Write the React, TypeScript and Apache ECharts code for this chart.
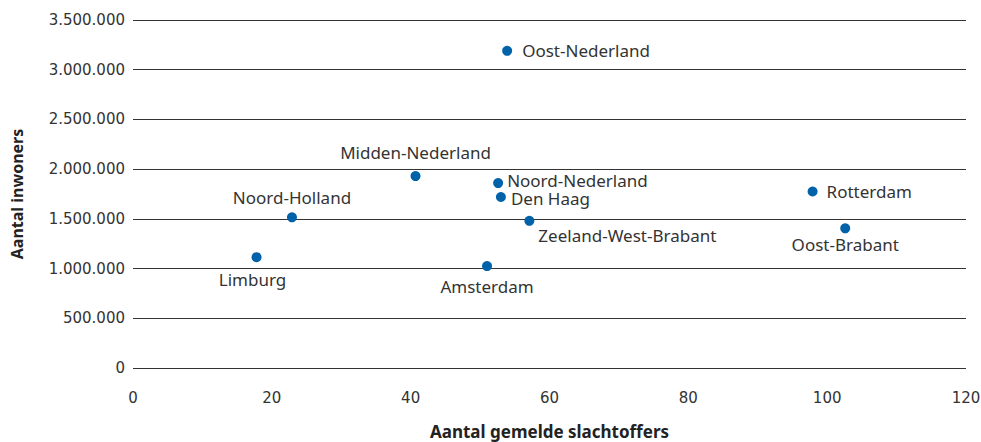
import React, { useEffect, useRef } from "react";
import * as echarts from "echarts";

const regions = [
  "Oost-Nederland",
  "Midden-Nederland",
  "Noord-Nederland",
  "Den Haag",
  "Zeeland-West-Brabant",
  "Amsterdam",
  "Noord-Holland",
  "Limburg",
  "Rotterdam",
  "Oost-Brabant",
];
const slachtoffers = [53.9, 40.7, 52.6, 53.0, 57.1, 51.0, 22.9, 17.8, 97.9, 102.6];
const inwoners = [3190000, 1930000, 1860000, 1720000, 1480000, 1025000, 1515000, 1115000, 1775000, 1405000];

const xTicks = [0, 20, 40, 60, 80, 100, 120];
const yTicks = [0, 500000, 1000000, 1500000, 2000000, 2500000, 3000000, 3500000];

// label placement per region (styling)
const labelStyle: Record<string, any> = {
  "Oost-Nederland": { position: "right", distance: 10 },
  "Midden-Nederland": { position: "top", distance: 11 },
  "Noord-Nederland": { position: "right", distance: 4, offset: [0, -3] },
  "Den Haag": { position: "right", distance: 5, offset: [0, 2] },
  "Zeeland-West-Brabant": { position: "bottom", distance: 6, align: "left", offset: [9, -4] },
  "Amsterdam": { position: "bottom", distance: 8 },
  "Noord-Holland": { position: "top", distance: 7 },
  "Limburg": { position: "bottom", distance: 10, offset: [-4, 0] },
  "Rotterdam": { position: "right", distance: 9 },
  "Oost-Brabant": { position: "bottom", distance: 4 },
};

const fmt = (v: number) => String(v).replace(/\B(?=(\d{3})+(?!\d))/g, ".");

export default function App() {
  const ref = useRef<HTMLDivElement>(null);
  useEffect(() => {
    if (!ref.current) return;
    document.body.style.margin = "0";
    const chart = echarts.init(ref.current, undefined, { renderer: "svg" });
    const font = "'Noto Sans', 'Open Sans', sans-serif";
    const tickFont = "'DejaVu Sans', sans-serif";
    chart.setOption({
      animation: false,
      textStyle: { fontFamily: font },
      grid: { left: 133, right: 15, top: 20, bottom: 74, containLabel: false, outerBoundsMode: "none" },
      xAxis: {
        type: "value",
        min: xTicks[0],
        max: xTicks[xTicks.length - 1],
        interval: 20,
        name: "Aantal gemelde slachtoffers",
        nameLocation: "middle",
        nameGap: 55,
        nameTextStyle: { fontFamily: font, fontSize: 17, fontWeight: "bold", color: "#222" },
        axisLine: { show: false },
        axisTick: { show: false },
        splitLine: { show: false },
        axisLabel: { fontFamily: tickFont, fontSize: 15, color: "#333", margin: 22 },
      },
      yAxis: {
        type: "value",
        min: yTicks[0],
        max: yTicks[yTicks.length - 1],
        interval: 500000,
        name: "Aantal inwoners",
        nameLocation: "middle",
        nameGap: 108,
        nameTextStyle: { fontFamily: font, fontSize: 16, fontWeight: "bold", color: "#222" },
        axisLine: { show: false },
        axisTick: { show: false },
        splitLine: { show: true, lineStyle: { color: "#333", width: 1 } },
        axisLabel: { fontFamily: tickFont, fontSize: 15, color: "#333", margin: 8, formatter: (v: number) => fmt(v) },
      },
      series: [
        {
          type: "scatter",
          symbolSize: 10,
          itemStyle: { color: "#0062a8", opacity: 1 },
          data: regions.map((name, i) => ({
            name,
            value: [slachtoffers[i], inwoners[i]],
            label: {
              show: true,
              formatter: name,
              fontFamily: font,
              fontSize: 17,
              lineHeight: 15,
              color: "#333",
              ...labelStyle[name],
            },
          })),
        },
      ],
    });
    return () => chart.dispose();
  }, []);
  return <div ref={ref} style={{ width: 981, height: 442 }} />;
}
